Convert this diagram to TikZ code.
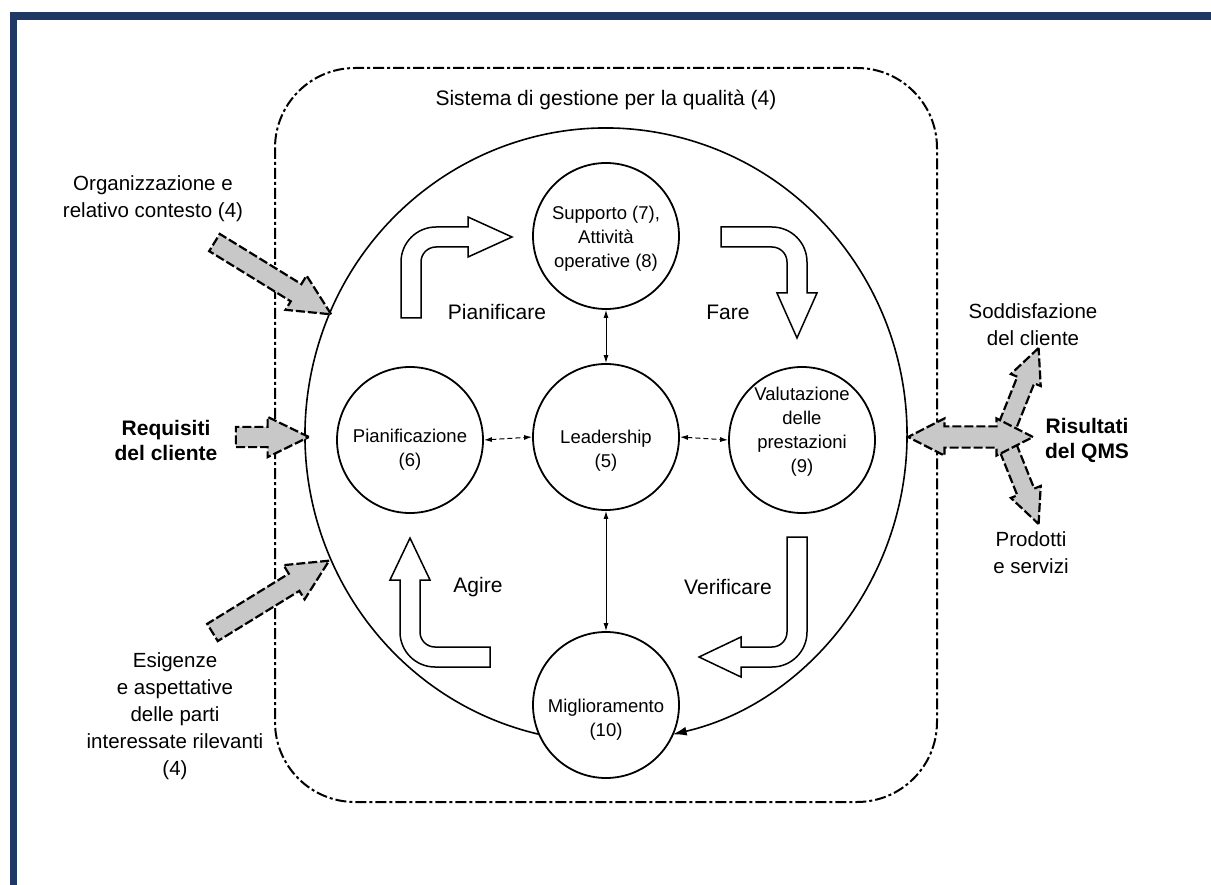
\documentclass[tikz,border=0pt]{standalone}
\usepackage{fontspec}
\setmainfont{Liberation Sans}
\usetikzlibrary{arrows.meta,shapes.arrows,calc}
\definecolor{frameblue}{RGB}{31,56,100}
\definecolor{arrgray}{RGB}{200,200,200}
\begin{document}
\begin{tikzpicture}[x=1pt,y=-1pt,
  sysbox/.style={draw, line width=2pt, rounded corners=80pt, dash pattern=on 11pt off 3pt on 3pt off 3pt},
  proc/.style={circle, draw, line width=1.8pt, minimum size=146pt, inner sep=0pt},
  ctext/.style={font=\fontsize{18.5}{24}\selectfont, align=center, inner sep=0pt},
  lbl/.style={font=\fontsize{21}{26}\selectfont, inner sep=0pt},
  side/.style={font=\fontsize{20.5}{27}\selectfont, align=center, inner sep=0pt},
  sidebold/.style={font=\bfseries\fontsize{21}{25}\selectfont, align=center, inner sep=0pt},
  hollow/.style={draw, fill=white, line width=1.5pt, line join=miter},
  gbase/.style={draw, fill=arrgray, line width=2.2pt, dash pattern=on 9pt off 3pt, inner xsep=0pt},
  garrow/.style={gbase, single arrow, inner ysep=9pt, single arrow head extend=10pt, single arrow tip angle=52},
  gbranch/.style={gbase, single arrow, inner ysep=8pt, single arrow head extend=7pt, single arrow tip angle=50},
  gdouble/.style={gbase, double arrow, inner ysep=9.5pt, double arrow head extend=8pt, double arrow tip angle=54},
  linkd/.style={{Latex[length=8pt,width=5pt]}-{Latex[length=8pt,width=5pt]}, line width=1pt, dash pattern=on 5pt off 3pt},
  links/.style={{Latex[length=8pt,width=5pt]}-{Latex[length=8pt,width=5pt]}, line width=1pt}
]
\useasboundingbox (0,0) rectangle (1211,885);
\fill[white] (0,0) rectangle (1211,885);
% frame
\fill[frameblue] (10,12) rectangle (1211,20);
\fill[frameblue] (10,12) rectangle (17,885);

% system boundary
\draw[sysbox] (275,68) rectangle (937,802);
\node[lbl] (title) at (606,100) {Sistema di gestione per la qualità (4)};

% process circles
\node[proc] (supp) at (606,236) {};
\node[proc] (lead) at (606,437) {};
\node[proc] (plan) at (410,440) {};
\node[proc] (val) at (802,440) {};
\node[proc] (migl) at (606,705) {};

\node[ctext] (suppT) at (606,239) {Supporto (7),\\Attività\\operative (8)};
\node[ctext] (leadT) at (606,451) {Leadership\\(5)};
\node[ctext] (planT) at (410,450) {Pianificazione\\(6)};
\node[ctext] (valT) at (802,432) {Valutazione\\delle\\prestazioni\\(9)};
\node[ctext] (miglT) at (606,720) {Miglioramento\\(10)};

% big cycle
\draw[line width=1.6pt, -{Latex[length=14pt,width=9pt]}]
  (606,435) ++(257.2:301pt and 307pt)
  arc[start angle=257.2, end angle=-77.2, x radius=301pt, y radius=307pt];

% links with leadership
\draw[linkd] (plan.east) -- (lead.west);
\draw[linkd] (lead.east) -- (val.west);
\draw[links] (supp.south) -- (lead.north);
\draw[links] (lead.south) -- (migl.north);

% hollow PDCA arrows
% Pianificare
\draw[hollow] (401,318) -- (401,262) arc[start angle=180, end angle=90, radius=35pt]
  -- (468,227) -- (468,217) -- (512,237) -- (468,257) -- (468,247) -- (436,247)
  arc[start angle=90, end angle=180, radius=15pt] -- (421,318) -- cycle;
% Fare
\draw[hollow] (721,227) -- (772,227) arc[start angle=90, end angle=0, radius=35pt]
  -- (807,293) -- (817,293) -- (797,338) -- (777,293) -- (787,293) -- (787,262)
  arc[start angle=0, end angle=90, radius=15pt] -- (721,247) -- cycle;
% Verificare
\draw[hollow] (787,537) -- (807,537) -- (807,632) arc[start angle=0, end angle=-90, radius=35pt]
  -- (741,667) -- (741,677) -- (699,657) -- (741,637) -- (741,647) -- (772,647)
  arc[start angle=-90, end angle=0, radius=15pt] -- cycle;
% Agire
\draw[hollow] (490,647) -- (490,667) -- (435,667) arc[start angle=-90, end angle=-180, radius=35pt]
  -- (400,580) -- (390,580) -- (410,538) -- (430,580) -- (420,580) -- (420,632)
  arc[start angle=180, end angle=270, radius=15pt] -- cycle;

\node[lbl] (pianificare) at (497,312) {Pianificare};
\node[lbl] (fare) at (728,312) {Fare};
\node[lbl] (agire) at (478,587) {Agire};
\node[lbl] (verificare) at (728,587) {Verificare};

% inputs
\node[side] (orgT) at (153,199) {Organizzazione e\\relativo contesto (4)};
\node[sidebold] (reqT) at (166,440) {Requisiti\\del cliente};
\node[side] (esiT) at (175,716) {Esigenze\\e aspettative\\delle parti\\interessate rilevanti\\(4)};

\node[garrow, minimum height=137pt, rotate=-31.6] (orgA) at (264,273) {};
\node[garrow, minimum height=73pt] (reqA) at (262,437) {};
\node[garrow, minimum height=137pt, rotate=31.6] (esiA) at (262,602) {};

% outputs
\node[gbranch, minimum height=86pt, rotate=68.2] (sodA) at (1019,397) {};
\node[gbranch, minimum height=86pt, rotate=-68.2] (prodA) at (1019,475) {};
\node[gdouble, minimum height=125pt] (resA) at (970.5,437) {};

\node[side] (sodT) at (1033,325) {Soddisfazione\\del cliente};
\node[sidebold] (resT) at (1087,440) {Risultati\\del QMS};
\node[side] (prodT) at (1031,553) {Prodotti\\e servizi};
\end{tikzpicture}
\end{document}
